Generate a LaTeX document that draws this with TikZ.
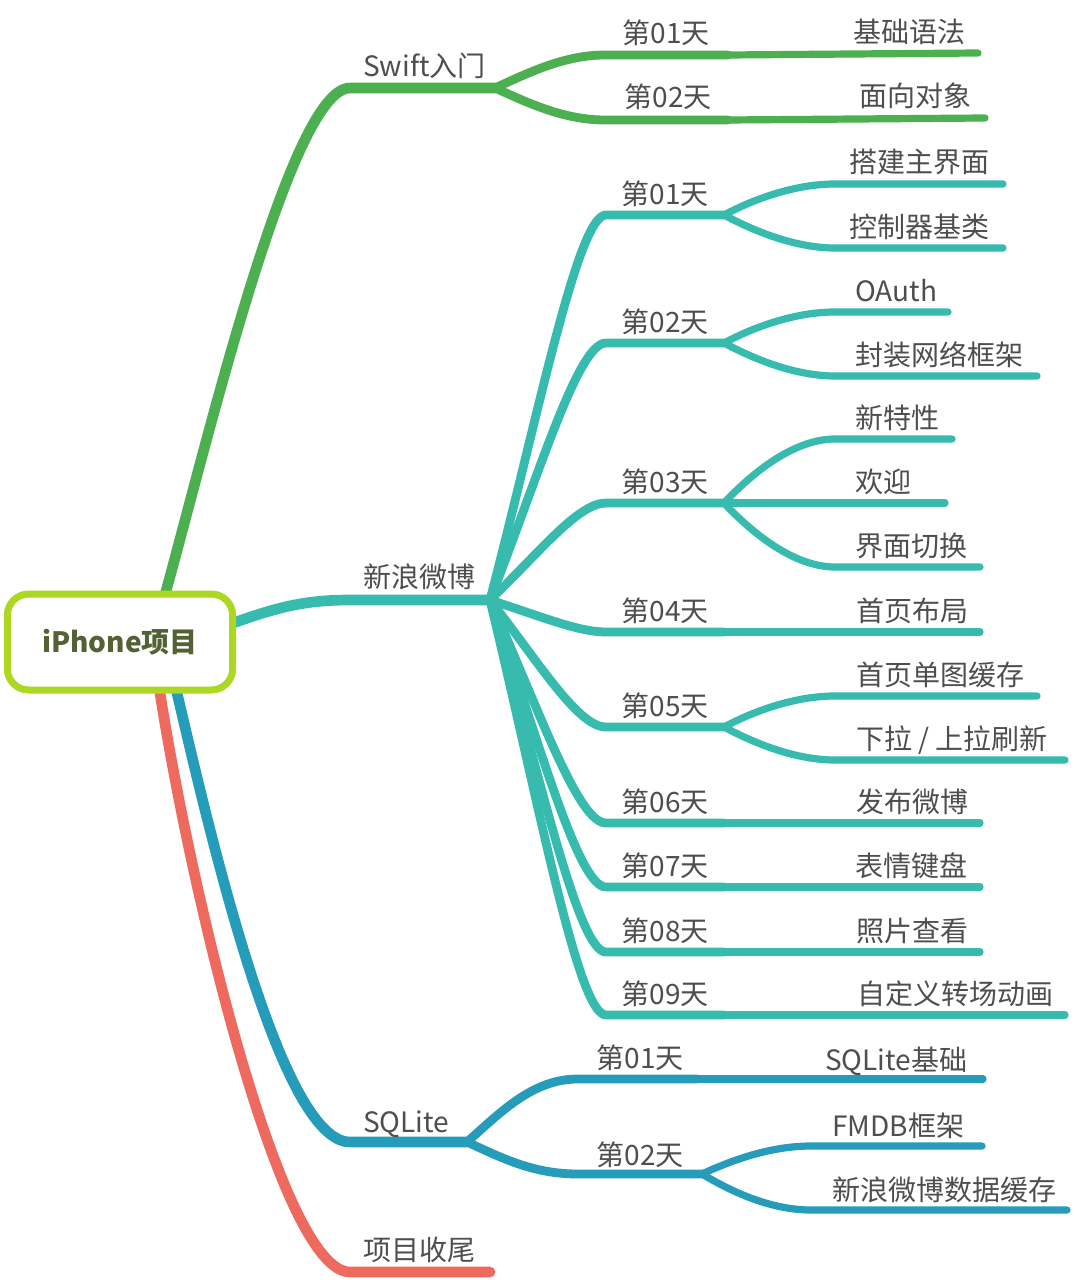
\documentclass[tikz,border=0pt]{standalone}
\usepackage{fontspec}
\setmainfont{Noto Sans CJK SC}
\usetikzlibrary{backgrounds}
\definecolor{cgreen}{RGB}{76,175,80}
\definecolor{cteal}{RGB}{55,187,174}
\definecolor{cblue}{RGB}{38,156,187}
\definecolor{cred}{RGB}{238,106,94}
\definecolor{clime}{RGB}{173,216,34}
\definecolor{colive}{RGB}{83,97,53}
\definecolor{txtgray}{RGB}{78,78,78}
\tikzset{
  lvlone/.style={line width=8pt, line cap=round},
  dayline/.style={line width=6.6pt, line cap=round},
  leafline/.style={line width=5.4pt, line cap=round},
  lbl/.style={text=txtgray, font=\fontsize{21pt}{25pt}\selectfont, inner sep=0pt, text height=17.4pt, text depth=1.5pt},
  lblw/.style={lbl, anchor=west},
  rootbox/.style={draw=clime, line width=5.25pt, rounded corners=16pt, fill=white,
    minimum width=169pt, minimum height=72pt, text=colive,
    font=\fontsize{21pt}{25pt}\selectfont\bfseries}
}
\begin{document}
\begin{tikzpicture}[x=0.75pt,y=-0.75pt]
\useasboundingbox (0,0) rectangle (1074,1280);

% root
\node[rootbox] (root) at (120,642) {iPhone项目};

% ---------- coordinates ----------
\coordinate (gs) at (163,602);
\coordinate (ts) at (222,627);
\coordinate (bs) at (174,680);
\coordinate (rs) at (158,680);

\coordinate (sw1) at (350,88);   \coordinate (sw2) at (495,88);
\coordinate (xl1) at (350,600);  \coordinate (xl2) at (490,600);
\coordinate (sq1) at (350,1142); \coordinate (sq2) at (467,1142);
\coordinate (pj1) at (350,1272); \coordinate (pj2) at (490,1272);

% Swift days / leaves
\coordinate (s1a) at (605,55);  \coordinate (s1b) at (728,55);  \coordinate (s1l) at (978,53);
\coordinate (s2a) at (605,120); \coordinate (s2b) at (728,120); \coordinate (s2l) at (985,118);

% Weibo days
\foreach \i/\y in {1/215,2/343,3/503,4/632,5/727,6/823,7/887,8/952,9/1015}{
  \coordinate (d\i a) at (606,\y);
  \coordinate (d\i b) at (724,\y);
}
% Weibo leaves (start, end)
\coordinate (l11a) at (835,184); \coordinate (l11b) at (1003,184);
\coordinate (l12a) at (835,248); \coordinate (l12b) at (1003,248);
\coordinate (l21a) at (835,312); \coordinate (l21b) at (948,312);
\coordinate (l22a) at (835,376); \coordinate (l22b) at (1037,376);
\coordinate (l31a) at (835,439); \coordinate (l31b) at (952,439);
\coordinate (l32b) at (945,503);
\coordinate (l33a) at (835,567); \coordinate (l33b) at (980,567);
\coordinate (l4b) at (980,632);
\coordinate (l51a) at (835,696); \coordinate (l51b) at (1037,696);
\coordinate (l52a) at (835,760); \coordinate (l52b) at (1065,760);
\coordinate (l6b) at (980,823);
\coordinate (l7b) at (980,887);
\coordinate (l8b) at (980,952);
\coordinate (l9b) at (1065,1015);

% SQLite
\coordinate (q1a) at (578,1079); \coordinate (q1b) at (697,1079); \coordinate (q1l) at (983,1079);
\coordinate (q2a) at (578,1174); \coordinate (q2b) at (702,1174);
\coordinate (q21a) at (811,1146); \coordinate (q21b) at (982,1146);
\coordinate (q22a) at (811,1210); \coordinate (q22b) at (1067,1210);

\begin{scope}[on background layer]
\fill[white] (0,0) rectangle (1074,1280);
% level one branches
\draw[lvlone,cgreen] (gs) .. controls +(42,-150) and +(-60,0) .. (sw1) -- (sw2);
\draw[lvlone,cteal] (ts) .. controls +(50,-18) and +(-50,0) .. (xl1) -- (xl2);
\draw[lvlone,cred] (rs) .. controls +(30,200) and +(-70,0) .. (pj1) -- (pj2);
\draw[lvlone,cblue] (bs) .. controls +(35,150) and +(-70,0) .. (sq1) -- (sq2);

% Swift
\draw[dayline,cgreen] (sw2) .. controls +(35,-16) and +(-40,0) .. (s1a) -- (s1b);
\draw[dayline,cgreen] (sw2) .. controls +(35,16) and +(-40,0) .. (s2a) -- (s2b);
\draw[leafline,cgreen] (s1b) -- (s1l);
\draw[leafline,cgreen] (s2b) -- (s2l);

% Weibo days
\foreach \i/\c in {1/-192,2/-128,3/-48,4/16,5/64,6/112,7/144,8/176,9/208}{
  \draw[dayline,cteal] (xl2) .. controls +(50,\c) and +(-28,0) .. (d\i a) -- (d\i b);
}
% Weibo leaves
\draw[leafline,cteal] (d1b) .. controls +(30,-16) and +(-40,0) .. (l11a) -- (l11b);
\draw[leafline,cteal] (d1b) .. controls +(30,16) and +(-40,0) .. (l12a) -- (l12b);
\draw[leafline,cteal] (d2b) .. controls +(30,-16) and +(-40,0) .. (l21a) -- (l21b);
\draw[leafline,cteal] (d2b) .. controls +(30,16) and +(-40,0) .. (l22a) -- (l22b);
\draw[leafline,cteal] (d3b) .. controls +(30,-32) and +(-40,0) .. (l31a) -- (l31b);
\draw[leafline,cteal] (d3b) -- (l32b);
\draw[leafline,cteal] (d3b) .. controls +(30,32) and +(-40,0) .. (l33a) -- (l33b);
\draw[leafline,cteal] (d4b) -- (l4b);
\draw[leafline,cteal] (d5b) .. controls +(30,-16) and +(-40,0) .. (l51a) -- (l51b);
\draw[leafline,cteal] (d5b) .. controls +(30,16) and +(-40,0) .. (l52a) -- (l52b);
\draw[leafline,cteal] (d6b) -- (l6b);
\draw[leafline,cteal] (d7b) -- (l7b);
\draw[leafline,cteal] (d8b) -- (l8b);
\draw[leafline,cteal] (d9b) -- (l9b);

% SQLite
\draw[dayline,cblue] (sq2) .. controls +(35,-31) and +(-45,0) .. (q1a) -- (q1b);
\draw[dayline,cblue] (sq2) .. controls +(35,16) and +(-45,0) .. (q2a) -- (q2b);
\draw[leafline,cblue] (q1b) -- (q1l);
\draw[leafline,cblue] (q2b) .. controls +(30,-14) and +(-40,0) .. (q21a) -- (q21b);
\draw[leafline,cblue] (q2b) .. controls +(30,18) and +(-40,0) .. (q22a) -- (q22b);
\end{scope}

% ---------- labels ----------
\node[lblw] (tsw) at (363,66) {Swift入门};
\node[lblw] (txl) at (363,577) {新浪微博};
\node[lblw] (tsq) at (363,1122) {SQLite};
\node[lblw] (tpj) at (363,1250) {项目收尾};

\node[lbl] (ts1) at (666,33) {第01天};
\node[lbl] (ts2) at (668,97) {第02天};
\node[lblw] (tsl1) at (853,32) {基础语法};
\node[lblw] (tsl2) at (859,96) {面向对象};

\foreach \i/\y in {1/194,2/322,3/482,4/611,5/706,6/802,7/866,8/931,9/994}{
  \node[lbl] (td\i) at (665,\y) {第0{\i}天};
}
\node[lblw] (t11) at (849,162) {搭建主界面};
\node[lblw] (t12) at (849,227) {控制器基类};
\node[lblw] (t21) at (855,291) {OAuth};
\node[lblw] (t22) at (855,355) {封装网络框架};
\node[lblw] (t31) at (855,418) {新特性};
\node[lblw] (t32) at (855,482) {欢迎};
\node[lblw] (t33) at (855,546) {界面切换};
\node[lblw] (t4) at (856,611) {首页布局};
\node[lblw] (t51) at (856,675) {首页单图缓存};
\node[lblw] (t52) at (856,739) {下拉 / 上拉刷新};
\node[lblw] (t6) at (856,802) {发布微博};
\node[lblw] (t7) at (855,866) {表情键盘};
\node[lblw] (t8) at (856,931) {照片查看};
\node[lblw] (t9) at (857,994) {自定义转场动画};

\node[lbl] (tq1) at (640,1058) {第01天};
\node[lbl] (tq2) at (640,1155) {第02天};
\node[lblw] (tq1l) at (825,1060) {SQLite基础};
\node[lblw] (tq21) at (832,1126) {FMDB框架};
\node[lblw] (tq22) at (832,1190) {新浪微博数据缓存};
\end{tikzpicture}
\end{document}
